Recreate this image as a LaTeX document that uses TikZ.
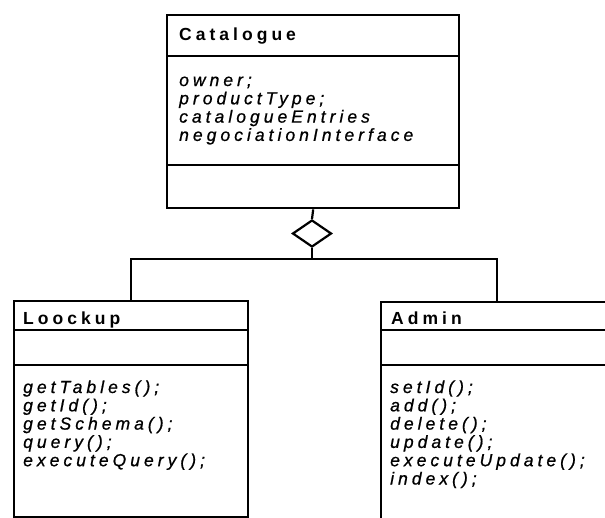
\documentclass[tikz,border=0pt]{standalone}
\usepackage{fontspec}
\newfontfamily\umlfont[LetterSpace=23, ItalicFeatures={FakeBold=0.8}]{Liberation Sans}
\usetikzlibrary{shapes.geometric}
\begin{document}
\begin{tikzpicture}[x=1pt,y=-1pt,
 classbox/.style={draw, line width=2.4pt, inner sep=0pt, anchor=north west},
 divider/.style={line width=2pt},
 conn/.style={line width=2.2pt},
 title/.style={anchor=base west, inner sep=0pt, font=\umlfont\fontsize{17.5}{18.3}\selectfont\bfseries},
 member/.style={anchor=base west, inner sep=0pt, font=\umlfont\fontsize{17.5}{18.3}\selectfont\itshape},
]
\useasboundingbox (0,0) rectangle (605,517);
\clip (0,0) rectangle (605,517);
% Catalogue
\node[classbox, minimum width=292pt, minimum height=193pt] (cat) at (166,14) {};
\draw[divider] (166,56) -- (458,56);
\draw[divider] (166,165) -- (458,165);
\node[title] (cat-t) at (179,40) {Catalogue};
\foreach \t [count=\i from 0] in {owner;,productType;,catalogueEntries,negociationInterface}
  \node[member] (cat-a\i) at (179,86+18.3*\i) {\t};
% Loockup
\node[classbox, minimum width=234pt, minimum height=216pt] (lk) at (13,300) {};
\draw[divider] (13,330) -- (247,330);
\draw[divider] (13,365) -- (247,365);
\node[title] (lk-t) at (23,324) {Loockup};
\foreach \t [count=\i from 0] in {getTables();,getId();,getSchema();,query();,executeQuery();}
  \node[member] (lk-m\i) at (23,393+18.3*\i) {\t};
% Admin
\node[classbox, minimum width=232pt, minimum height=240pt] (ad) at (380,301) {};
\draw[divider] (380,330) -- (612,330);
\draw[divider] (380,365) -- (612,365);
\node[title] (ad-t) at (391,324) {Admin};
\foreach \t [count=\i from 0] in {setId();,add();,delete();,update();,executeUpdate();,index();}
  \node[member] (ad-m\i) at (390,393+18.3*\i) {\t};
% aggregation
\node[diamond, draw, line width=2.2pt, minimum width=39pt, minimum height=27pt, inner sep=0pt] (dia) at (312,233.5) {};
\coordinate (j) at (312,259);
\draw[conn] (cat.south) -- (dia.north);
\draw[conn] (dia.south) -- (j);
\draw[conn] (lk.north) |- (j) -| (ad.north);
\end{tikzpicture}
\end{document}
